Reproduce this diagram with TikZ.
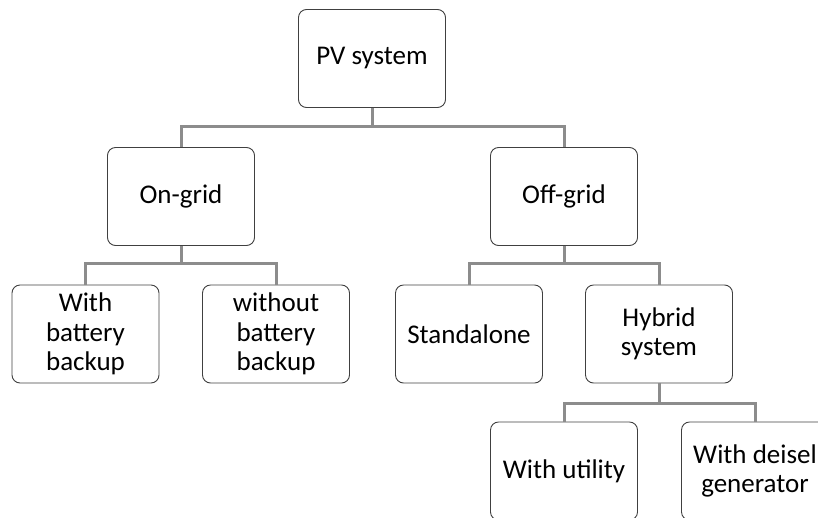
\documentclass[tikz,border=0pt]{standalone}
\usepackage{fontspec}
\setmainfont{Carlito}
\definecolor{boxline}{HTML}{404040}
\definecolor{linkgray}{HTML}{8C8C8C}

\begin{document}
\begin{tikzpicture}[x=1pt,y=-1pt,
	box/.style={draw=boxline, line width=0.9pt, rounded corners=8pt, minimum width=147pt, minimum height=98pt, inner sep=0pt, align=center, font=\fontsize{27}{29.5}\selectfont},
	link/.style={draw=linkgray, line width=3pt}]
	\useasboundingbox (0,0) rectangle (818,517);
	\clip (0,0) rectangle (818,517);
	\node[box] (pv) at (372,58.5) {PV system};
	\node[box] (ongrid) at (181,196.5) {On-grid};
	\node[box] (offgrid) at (564,196.5) {Off-grid};
	\node[box] (withbattery) at (85.5,334) {With\\battery\\backup};
	\node[box] (nobattery) at (276,334) {without\\battery\\backup};
	\node[box] (standalone) at (469,334) {Standalone};
	\node[box] (hybrid) at (659,334) {Hybrid\\system};
	\node[box] (utility) at (564,471) {With utility};
	\node[box] (diesel) at (755,471) {With deisel\\generator};
	\foreach \parent/\child/\drop in
	{
		pv/ongrid/19, pv/offgrid/19,
		ongrid/withbattery/18, ongrid/nobattery/18,
		offgrid/standalone/18, offgrid/hybrid/18,
		hybrid/utility/20, hybrid/diesel/20
	}
	{
		\draw[link] (\parent.south) -- ++(0,\drop) -| (\child.north);
	}
\end{tikzpicture}
\end{document}
